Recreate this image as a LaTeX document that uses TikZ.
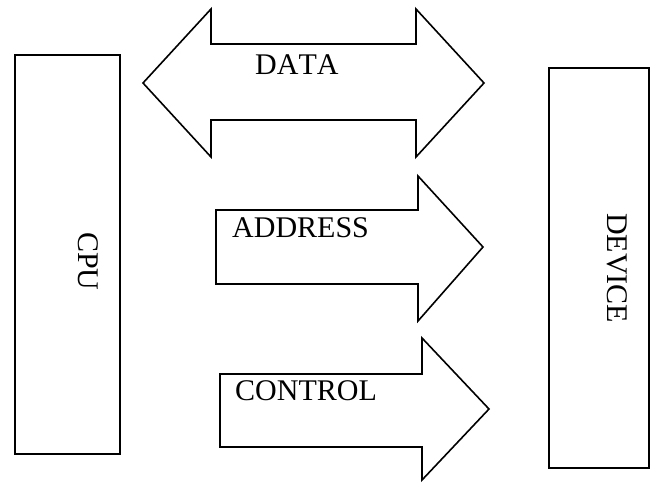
\documentclass[tikz,border=0pt]{standalone}
\usepackage{fontspec}
\setmainfont[Kerning=Off]{Liberation Serif}
\begin{document}
\begin{tikzpicture}[x=1pt,y=-1pt,
  busline/.style={draw=black,line width=1.6pt,line join=miter},
  boxunit/.style={draw=black,line width=1.6pt,rectangle,inner sep=0pt},
  lbl/.style={inner sep=0pt,font=\fontsize{30}{36}\selectfont,anchor=base west},
  vlbl/.style={lbl,rotate=-90}]
\useasboundingbox (0,0) rectangle (652,482);
% units
\node[boxunit,minimum width=105pt,minimum height=399pt] (cpu) at (67.5,254.5) {};
\node[boxunit,minimum width=100pt,minimum height=400pt] (dev) at (599,268) {};
% labels
\node[vlbl] (cpulbl) at (78,232) {CPU};
\node[vlbl] (devlbl) at (607,213) {DEVICE};
% data bus (double arrow)
\draw[busline] (143,83) -- (211,9) -- (211,44) -- (416,44) -- (416,9) -- (484,83)
  -- (416,157) -- (416,120) -- (211,120) -- (211,157) -- cycle;
\node[lbl] (datalbl) at (255,74) {DATA};
% address bus
\draw[busline] (216,210) -- (418,210) -- (418,176) -- (483,247) -- (418,321)
  -- (418,284) -- (216,284) -- cycle;
\node[lbl] (addrlbl) at (232,237) {ADDRESS};
% control bus
\draw[busline] (220,374) -- (422,374) -- (422,338) -- (489,409) -- (422,480)
  -- (422,447) -- (220,447) -- cycle;
\node[lbl] (ctrllbl) at (235,400) {CONTROL};
\end{tikzpicture}
\end{document}
